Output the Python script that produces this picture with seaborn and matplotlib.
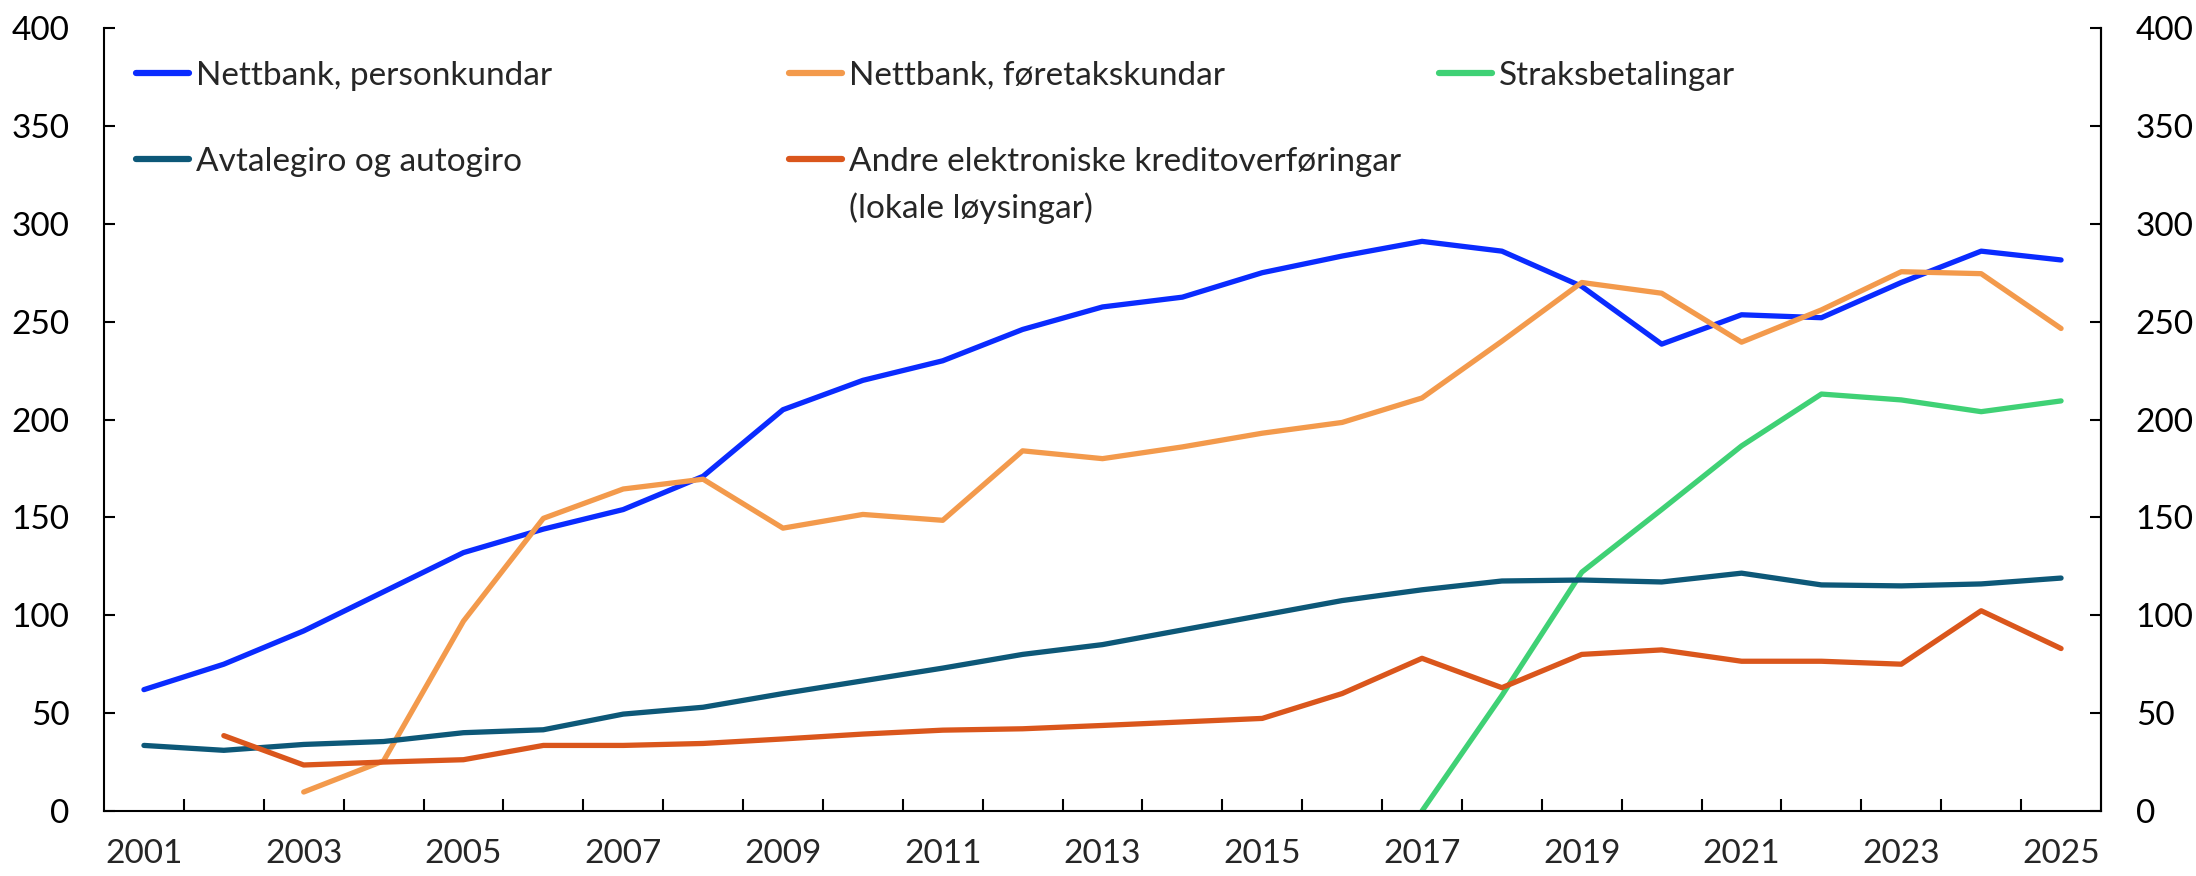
import numpy as np
import pandas as pd
import matplotlib
matplotlib.use("Agg")
import matplotlib.pyplot as plt
from matplotlib.lines import Line2D
import seaborn as sns

years = list(range(2001, 2026))

nettbank_person = [62, 75, 92, 112, 132, 144, 154, 171, 205, 220, 230, 246, 257.5, 262.5,
                   275, 283.5, 291, 286, 268, 238.5, 253.5, 252, 270, 286, 281.5]
nettbank_foretak = [np.nan, np.nan, 9.7, 25.6, 97, 149.5, 164.5, 169.5, 144.5, 151.5, 148.5,
                    184, 180, 186, 193, 198.5, 211, 240, 270, 264.5, 239.5, 256, 275.5, 274.5, 246.5]
straks = [np.nan] * 16 + [0, 59, 122, 154, 186.5, 213, 210, 204, 209.5]
avtalegiro = [33.5, 31, 34, 35.5, 40, 41.5, 49.5, 53, 60, 66.5, 73, 80, 85, 92.5, 100, 107.5,
              113, 117.5, 118, 117, 121.5, 115.5, 115, 116, 119]
andre = [np.nan, 38.5, 23.5, 25, 26.2, 33.5, 33.5, 34.5, 36.8, 39.3, 41.3, 42, 43.7, 45.5, 47.3,
         60, 78, 63, 80, 82.3, 76.5, 76.5, 75, 102.3, 83]

series_names = ["Nettbank, personkundar", "Nettbank, føretakskundar", "Straksbetalingar",
                "Avtalegiro og autogiro", "Andre elektroniske kreditoverføringar"]
series_values = [nettbank_person, nettbank_foretak, straks, avtalegiro, andre]
colors = ["#0A2BFF", "#F39A4C", "#3FD175", "#0D5878", "#DA561C"]

y_ticks = list(range(0, 401, 50))
x_label_years = list(range(2001, 2026, 2))

rows = []
for name, vals in zip(series_names, series_values):
    for y, v in zip(years, vals):
        rows.append({"year": y, "value": v, "series": name})
df = pd.DataFrame(rows).dropna()

sns.set_theme(style="white")
plt.rcParams["font.family"] = ["Lato", "DejaVu Sans"]
FS = 24

fig = plt.figure(figsize=(21.96, 8.76), dpi=100)
ax = fig.add_axes([104 / 2196, 1 - 811 / 876, (2101 - 104) / 2196, (811 - 28) / 876])

palette = dict(zip(series_names, colors))
sns.lineplot(data=df, x="year", y="value", hue="series", hue_order=series_names,
             palette=palette, estimator=None, legend=False, linewidth=3.8, ax=ax,
             solid_capstyle="round", solid_joinstyle="round")

ax.set_xlim(2000.5, 2025.5)
ax.set_ylim(0, 400)
ax.set_xlabel("")
ax.set_ylabel("")

ax.set_xticks(x_label_years)
ax.set_xticklabels([str(y) for y in x_label_years], fontsize=FS)
ax.set_xticks(np.arange(2001.5, 2025.0, 1.0), minor=True)
ax.tick_params(axis="x", which="major", length=0, pad=20)
ax.tick_params(axis="x", which="minor", length=9, width=1.5, direction="in", color="black", bottom=True)
ax.set_yticks(y_ticks)
ax.set_yticklabels([str(v) for v in y_ticks], fontsize=FS)
ax.tick_params(axis="y", which="major", length=8, width=1.5, direction="in", left=True, pad=25, colors="black")

for s in ["left", "bottom", "right"]:
    ax.spines[s].set_visible(True)
    ax.spines[s].set_color("black")
    ax.spines[s].set_linewidth(1.5)
ax.spines["top"].set_visible(False)

ax2 = ax.twinx()
ax2.set_ylim(0, 400)
ax2.set_yticks(y_ticks)
ax2.set_yticklabels([str(v) for v in y_ticks], fontsize=FS)
ax2.tick_params(axis="y", length=8, width=1.5, direction="in", right=True, pad=25, colors="black")
for s in ["left", "bottom", "top"]:
    ax2.spines[s].set_visible(False)
ax2.spines["right"].set_color("black")
ax2.spines["right"].set_linewidth(1.5)
ax2.grid(False)
ax.grid(False)

handles = [Line2D([], [], color=c, linewidth=4.5, solid_capstyle="round") for c in colors]

def make_legend(idx, x_px, y_top_px, labels=None):
    labs = labels if labels is not None else [series_names[i] for i in idx]
    leg = fig.legend([handles[i] for i in idx], labs, loc="upper left",
                     bbox_to_anchor=(x_px / 2196, 1 - y_top_px / 876),
                     bbox_transform=fig.transFigure, frameon=False, fontsize=FS,
                     handlelength=1.6, handletextpad=0.2, labelspacing=1.68,
                     borderpad=0, borderaxespad=0)
    return leg

leg1 = make_legend([0, 3], 136, 61)
leg2 = make_legend([1, 4], 789, 61)
leg3 = make_legend([2], 1439, 61)

fig.canvas.draw()
renderer = fig.canvas.get_renderer()
t = leg2.get_texts()[1]
bb = t.get_window_extent(renderer)
x0 = bb.x0 / fig.bbox.width
yc = (bb.y0 + bb.y1) / 2 / fig.bbox.height
fig.text(x0, yc - 46 / 876, "(lokale løysingar)", fontsize=FS, ha="left", va="center")

fig.savefig("out.png", dpi=100)
